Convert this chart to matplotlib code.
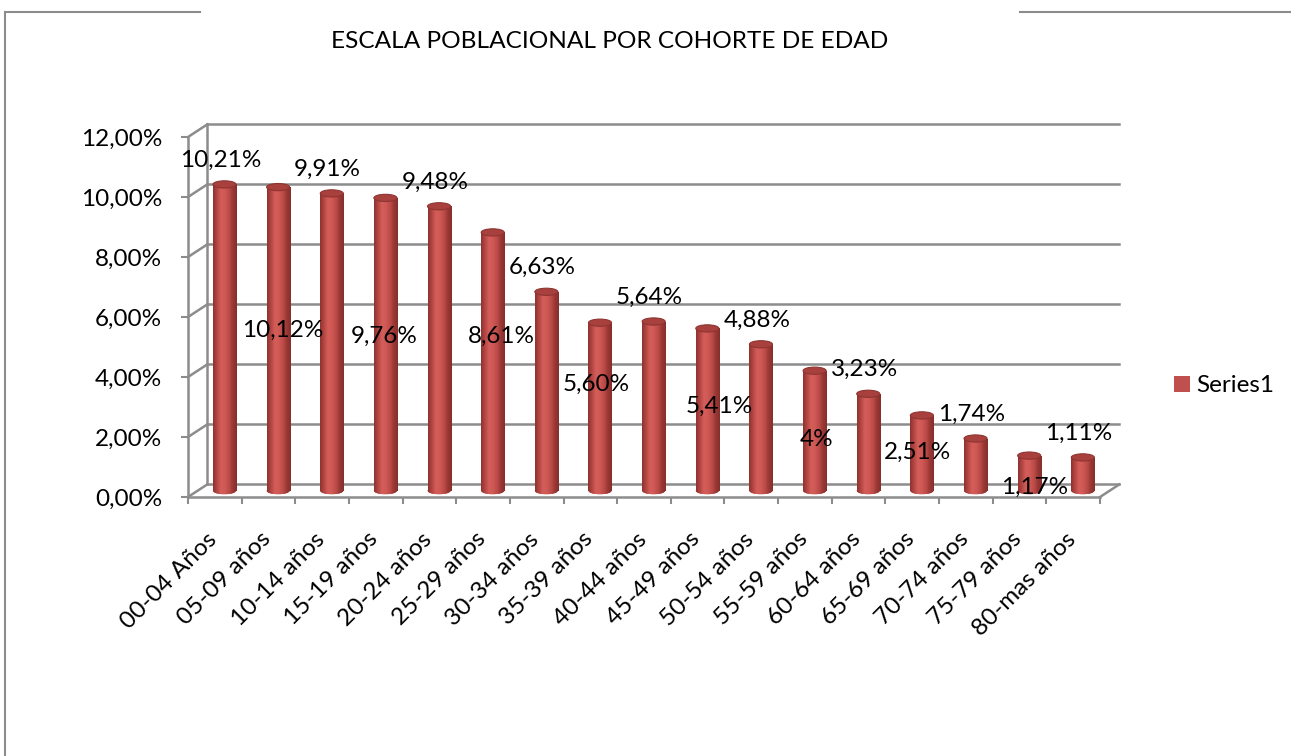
import numpy as np
import matplotlib.pyplot as plt
from matplotlib.patches import Ellipse
from matplotlib.lines import Line2D
from matplotlib.colors import LinearSegmentedColormap
from matplotlib.transforms import ScaledTranslation

plt.rcParams['font.family'] = ['Lato', 'DejaVu Sans']

cohortes = ['00-04 Años', '05-09 años', '10-14 años', '15-19 años', '20-24 años',
            '25-29 años', '30-34 años', '35-39 años', '40-44 años', '45-49 años',
            '50-54 años', '55-59 años', '60-64 años', '65-69 años', '70-74 años',
            '75-79 años', '80-mas años']
porcentajes = [10.21, 10.12, 9.91, 9.76, 9.48, 8.61, 6.63, 5.60, 5.64, 5.41,
               4.88, 4.00, 3.23, 2.51, 1.74, 1.17, 1.11]
etiquetas = ['10,21%', '10,12%', '9,91%', '9,76%', '9,48%', '8,61%', '6,63%', '5,60%',
             '5,64%', '5,41%', '4,88%', '4%', '3,23%', '2,51%', '1,74%', '1,17%', '1,11%']
y_ticks = [0, 2, 4, 6, 8, 10, 12]
y_labels = ['0,00%', '2,00%', '4,00%', '6,00%', '8,00%', '10,00%', '12,00%']

# desplazamiento (px) de las etiquetas que van en medio de la barra
nudge_mid = {1: (5, 9), 3: (-1, 8), 5: (9, 25), 7: (-4, 22),
             9: (12, 3), 11: (2, -9), 13: (-4, 1), 15: (5, -14)}

gris = '#8c8c8c'
rojo = '#c0504d'
fs = 17.5
# profundidad del efecto 3D en unidades de datos
dx, dy = 0.36, 0.42
ancho = 0.43
elip = 0.24

fig = plt.figure(figsize=(12.91, 7.56), dpi=100)
ax = fig.add_axes([188/1291, 1-497/756, 912/1291, 360/756])

x = np.arange(len(cohortes)) + 0.5

# pared del fondo y pared izquierda
for v in y_ticks:
    ax.plot([dx, 17 + dx], [v + dy, v + dy], color=gris, lw=1.8, clip_on=False, zorder=1)
    ax.plot([0, dx], [v, v + dy], color=gris, lw=1.8, clip_on=False, zorder=1)
ax.plot([dx, dx], [dy, 12 + dy], color=gris, lw=1.8, clip_on=False, zorder=1)
ax.plot([17, 17 + dx], [0, dy], color=gris, lw=1.8, clip_on=False, zorder=1)

# cilindros
cmap = LinearSegmentedColormap.from_list('cil', ['#8e322f', '#b44744', '#d55e5a', '#cf5955',
                                                 '#bd4c49', '#9a3835', '#862e2b'])
grad = np.linspace(0, 1, 64).reshape(1, -1)
xc = x + dx / 2
base = dy / 2
barras = ax.bar(xc, porcentajes, width=ancho, bottom=base, color=rojo, label='Series1', zorder=2)
for b, xi, v in zip(barras, xc, porcentajes):
    im = ax.imshow(grad, cmap=cmap, aspect='auto', interpolation='bicubic',
                   extent=(xi - ancho/2, xi + ancho/2, base, base + v), zorder=3)
    im.set_clip_path(b)
    fondo = Ellipse((xi, base), ancho, elip, facecolor=rojo, edgecolor='none', zorder=2)
    ax.add_patch(fondo)
    im2 = ax.imshow(grad, cmap=cmap, aspect='auto', interpolation='bicubic',
                    extent=(xi - ancho/2, xi + ancho/2, base - elip/2, base), zorder=3)
    im2.set_clip_path(fondo)
    ax.add_patch(Ellipse((xi, base + v), ancho, elip, facecolor='#a8413e',
                         edgecolor='#8e3431', lw=0.8, zorder=4))

# etiquetas de datos
for i, (xi, v, t) in enumerate(zip(xc, porcentajes, etiquetas)):
    if i % 2 == 0:
        ax.annotate(t, (xi, base + v), xytext=(-3, 17.5), textcoords='offset points',
                    ha='center', va='center', fontsize=fs, zorder=6)
    else:
        ox, oy = nudge_mid[i]
        ax.annotate(t, (xi, base + v / 2), xytext=(ox * 0.72, oy * 0.72),
                    textcoords='offset points', ha='center', va='center',
                    fontsize=fs, zorder=6)

ax.set_xlim(0, 17)
ax.set_ylim(0, 12)
ax.set_facecolor('none')
for s in ['top', 'right']:
    ax.spines[s].set_visible(False)
for s in ['left', 'bottom']:
    ax.spines[s].set_color(gris)
    ax.spines[s].set_linewidth(1.8)

ax.set_yticks(y_ticks)
ax.set_yticklabels(y_labels, fontsize=fs)
ax.tick_params(axis='y', length=5, width=1.5, color=gris, pad=13.5)
ax.set_xticks(np.arange(18))
ax.set_xticklabels([])
ax.tick_params(axis='x', which='major', length=5, width=1.5, color=gris)
ax.set_xticks(x, minor=True)
ax.set_xticklabels(cohortes, minor=True, rotation=45, ha='right', va='center',
                   rotation_mode='anchor', fontsize=fs)
ax.tick_params(axis='x', which='minor', length=0, pad=28)
off = ScaledTranslation(-1/100, 0, fig.dpi_scale_trans)
for lab in ax.get_xticklabels(minor=True):
    lab.set_transform(lab.get_transform() + off)

fig.legend(handles=[barras], labels=['Series1'], loc='center left',
           bbox_to_anchor=(1174/1291, 1-386/756), frameon=False, fontsize=fs,
           handlelength=0.65, handleheight=0.65, handletextpad=0.25,
           borderpad=0, borderaxespad=0)

fig.text(610/1291, 1-42/756, 'ESCALA POBLACIONAL POR COHORTE DE EDAD',
         ha='center', va='center', fontsize=17.6)

# borde del área del gráfico
fig.add_artist(Line2D([5/1291, 5/1291], [0, 1-12/756], color=gris, lw=1.5))
fig.add_artist(Line2D([5/1291, 200/1291], [1-12/756, 1-12/756], color=gris, lw=1.5))
fig.add_artist(Line2D([1020/1291, 1], [1-12/756, 1-12/756], color=gris, lw=1.5))

fig.savefig('out.png', dpi=100, facecolor='white')
